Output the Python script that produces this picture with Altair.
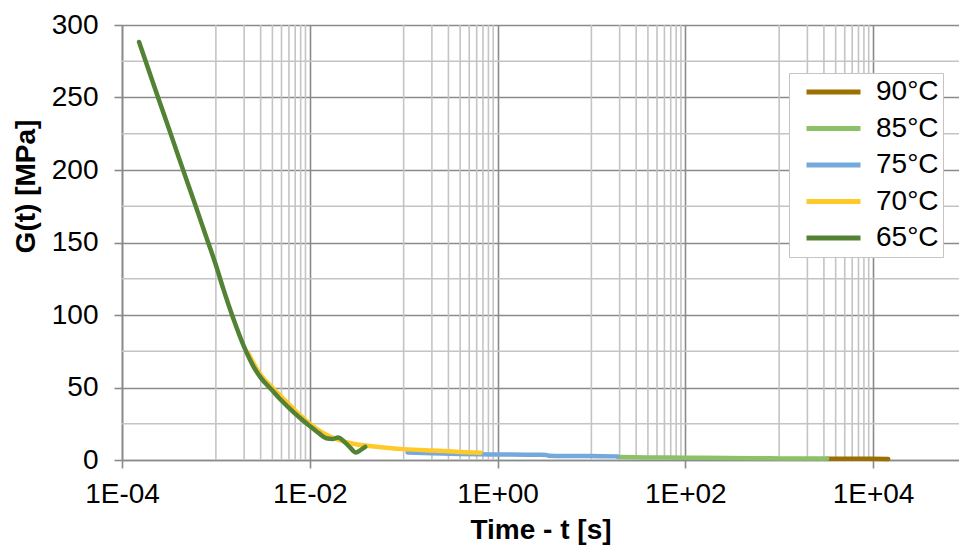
import altair as alt
import pandas as pd

# ---- data ----
series_names = ["90°C", "85°C", "75°C", "70°C", "65°C"]
series_colors = ["#9C7000", "#8CC168", "#75A9DC", "#FFC929", "#548235"]

t65 = [1.52e-4, 2.0e-4, 3.0e-4, 4.0e-4, 5.0e-4, 6.0e-4, 7.0e-4, 8.0e-4, 1.0e-3, 1.2e-3,
       1.5e-3, 2.0e-3, 2.5e-3, 3.0e-3, 4.0e-3, 5.0e-3, 6.0e-3, 8.0e-3, 1.0e-2, 1.25e-2,
       1.5e-2, 1.75e-2, 2.0e-2, 2.3e-2, 2.7e-2, 3.1e-2, 3.5e-2, 3.9e-2]
g65 = [288.3, 265.7, 232.7, 209.2, 191.0, 176.3, 163.7, 152.7, 134.5, 118.0,
       99.3, 78.0, 64.8, 56.8, 47.9, 41.0, 36.0, 28.6, 23.4, 18.5,
       15.0, 14.5, 15.5, 13.0, 8.5, 5.2, 7.0, 9.0]

t70 = [2.2e-3, 3.0e-3, 4.0e-3, 6.0e-3, 8.0e-3, 1.0e-2, 1.4e-2, 2.0e-2, 3.0e-2, 4.5e-2,
       7.0e-2, 0.1, 0.2, 0.3, 0.45, 0.66]
g70 = [74, 58.5, 50, 38.5, 30.5, 25, 18.5, 14, 11, 9.5,
       8.3, 7.5, 6.5, 6.0, 5.4, 5.0]

t75 = [0.11, 0.2, 0.4, 0.66, 1.0, 2.0, 3.3, 3.5, 6.0, 10, 19]
g75 = [5.2, 4.6, 4.1, 3.9, 3.8, 3.6, 3.5, 3.0, 2.8, 2.7, 2.5]

t85 = [19, 40, 100, 279, 500, 1000, 3240]
g85 = [2.0, 1.8, 1.6, 1.4, 1.2, 1.1, 0.95]

t90 = [3240, 5000, 8000, 14500]
g90 = [0.9, 0.85, 0.8, 0.75]

x_major = [1e-4, 1e-2, 1e0, 1e2, 1e4]
x_minor_bases = [1e-3, 1e-1, 1e1, 1e3]
y_major = [0, 50, 100, 150, 200, 250, 300]
y_minor = [25, 75, 125, 175, 225, 275]

# ---- tables ----
frames = []
for name, t, g in [("90°C", t90, g90), ("85°C", t85, g85), ("75°C", t75, g75),
                   ("70°C", t70, g70), ("65°C", t65, g65)]:
    frames.append(pd.DataFrame({"t": t, "G": g, "series": name}))

x_minor = [k * b for b in x_minor_bases for k in range(1, 10)]
df_xminor = pd.DataFrame({"t": x_minor})
df_yminor = pd.DataFrame({"G": y_minor})

FONT = "Liberation Sans"
MAJOR = "#8a8a8a"
MINOR = "#c4c4c4"

xscale = alt.Scale(type="log", domain=[1e-4, 82400], nice=False)
yscale = alt.Scale(domain=[0, 300], nice=False)

label_expr = ("'1E' + (round(log(datum.value)/LN10) < 0 ? '-' : '+') + "
              "(abs(round(log(datum.value)/LN10)) < 10 ? '0' : '') + abs(round(log(datum.value)/LN10))")

xaxis = alt.Axis(values=x_major, grid=True, gridColor=MAJOR, gridWidth=1.6,
                 domainColor=MAJOR, domainWidth=1.6, tickColor=MAJOR, tickWidth=1.6,
                 tickSize=8, labelFontSize=28, labelFont=FONT, labelColor="#000000",
                 labelPadding=12, labelExpr=label_expr, labelFlush=False,
                 title="Time - t [s]", titleFont=FONT, titleFontSize=28,
                 titleFontWeight="bold", titleColor="#000000",
                 titleBaseline="alphabetic", titleY=78)
yaxis = alt.Axis(values=y_major, grid=True, gridColor=MAJOR, gridWidth=1.6,
                 domainColor=MAJOR, domainWidth=1.6, tickColor=MAJOR, tickWidth=1.6,
                 tickSize=8, labelFontSize=28, labelFont=FONT, labelColor="#000000",
                 labelPadding=16, labelFlush=False,
                 title="G(t) [MPa]", titleFont=FONT, titleFontSize=28,
                 titleFontWeight="bold", titleColor="#000000", titleAngle=270,
                 titleAlign="center", titleBaseline="middle", titleX=-96, titleY=161)

vminor = alt.Chart(df_xminor).mark_rule(color=MINOR, strokeWidth=1.6).encode(
    x=alt.X("t:Q", scale=xscale, axis=xaxis))
hminor = alt.Chart(df_yminor).mark_rule(color=MINOR, strokeWidth=1.6).encode(
    y=alt.Y("G:Q", scale=yscale, axis=yaxis))

color = alt.Color("series:N",
                  scale=alt.Scale(domain=series_names, range=series_colors),
                  legend=alt.Legend(title=None, orient="none", legendX=667, legendY=48,
                                    direction="vertical", symbolType="stroke",
                                    symbolStrokeWidth=5, symbolSize=2916,
                                    symbolOffset=11, clipHeight=30, rowPadding=6.5,
                                    labelFontSize=28, labelFont=FONT, labelColor="#000000",
                                    labelExpr="datum.label + '\u00a0\u00a0'",
                                    padding=4, strokeColor="#c4c4c4", fillColor="#ffffff",
                                    labelOffset=13))

lines = []
for f in frames:
    lines.append(alt.Chart(f).mark_line(strokeWidth=4.5, strokeCap="round",
                                        strokeJoin="round", interpolate="monotone").encode(
        x=alt.X("t:Q", scale=xscale, axis=xaxis),
        y=alt.Y("G:Q", scale=yscale, axis=yaxis),
        color=color))

chart = alt.layer(vminor, hminor, *lines).properties(
    width=837, height=435,
    padding={"left": 122, "top": 25, "right": 0, "bottom": 92},
    autosize=alt.AutoSizeParams(type="none"),
).configure_view(stroke=None).configure(font=FONT, background="#ffffff")

chart.save("out.html", embed_options={"renderer": "svg", "actions": False})
